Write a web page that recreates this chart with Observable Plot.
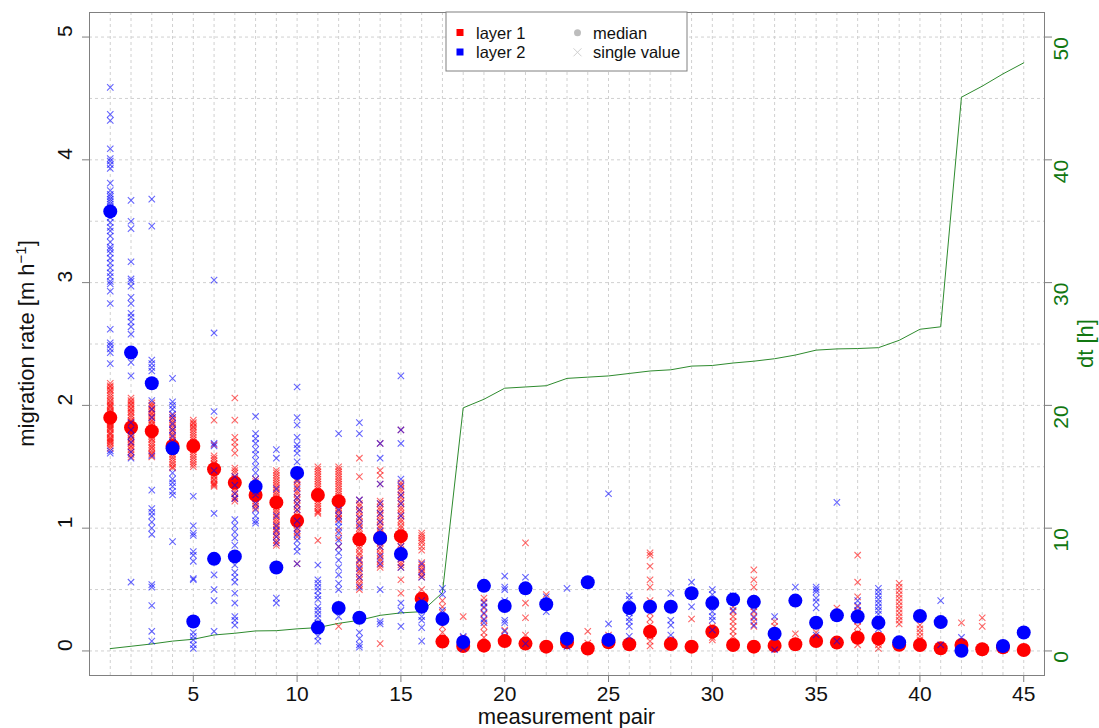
<!DOCTYPE html>
<html>
<head>
<meta charset="utf-8">
<script src="https://cdn.jsdelivr.net/npm/d3@7"></script>
<script src="https://cdn.jsdelivr.net/npm/@observablehq/plot@0.6"></script>
<style>
  body { margin: 0; background: #fff; }
  #chart { position: relative; width: 1099px; height: 728px; overflow: hidden; }
</style>
</head>
<body>
<div id="chart"></div>
<script>
// Measurement pairs (x categories)
const pairs = [1,2,3,4,5,6,7,8,9,10,11,12,13,14,15,16,17,18,19,20,21,22,23,24,25,26,27,28,29,30,31,32,33,34,35,36,37,38,39,40,41,42,43,44,45];

// Time between the two measurements of each pair [h]
const dt = [0.19,0.38,0.57,0.8,0.95,1.3,1.44,1.63,1.65,1.8,1.9,2.25,2.5,2.9,3.1,3.2,4.75,19.8,20.5,21.4,21.5,21.6,22.2,22.3,22.4,22.6,22.8,22.9,23.2,23.25,23.45,23.6,23.8,24.1,24.5,24.6,24.63,24.7,25.3,26.2,26.4,45.1,46.0,47.0,47.9];

// Median migration rate per pair [m/h]
const median1 = [1.90,1.82,1.79,1.67,1.67,1.48,1.37,1.27,1.21,1.06,1.27,1.22,0.91,0.92,0.935,0.425,0.076,0.04,0.043,0.08,0.06,0.035,0.07,0.02,0.07,0.054,0.157,0.057,0.035,0.157,0.049,0.035,0.043,0.054,0.081,0.068,0.108,0.1,0.05,0.049,0.022,0.049,0.014,0.03,0.008];
const median2 = [3.58,2.43,2.18,1.65,0.24,0.75,0.77,1.34,0.68,1.45,0.19,0.35,0.27,0.92,0.79,0.36,0.26,0.073,0.53,0.366,0.51,0.38,0.1,0.56,0.09,0.35,0.36,0.36,0.47,0.39,0.42,0.40,0.14,0.41,0.23,0.29,0.28,0.23,0.07,0.285,0.235,0.002,null,0.04,0.15];

// Single migration rates, layer 1, one list per pair
const single1 = [
  [2.18,2.16,2.15,2.13,2.12,2.1,2.08,2.06,2.04,2.03,2.01,2.0,1.99,1.98,1.96,1.95,1.94,1.93,1.91,1.9,1.89,1.88,1.87,1.86,1.85,1.84,1.83,1.82,1.81,1.8,1.78,1.77,1.76,1.74,1.73,1.72,1.71,1.7,1.69,1.67,1.65],
  [2.06,2.04,2.03,2.01,2.0,1.98,1.97,1.95,1.94,1.92,1.9,1.88,1.87,1.86,1.85,1.84,1.83,1.81,1.8,1.79,1.78,1.76,1.75,1.73,1.72,1.7,1.69,1.67,1.66,1.64,1.62,1.6,1.58],
  [2.02,2.0,1.99,1.97,1.96,1.94,1.93,1.91,1.9,1.88,1.87,1.85,1.84,1.82,1.81,1.79,1.78,1.76,1.75,1.73,1.72,1.7,1.68,1.66,1.65,1.63,1.61,1.6,1.58],
  [1.92,1.9,1.88,1.86,1.84,1.82,1.8,1.78,1.76,1.74,1.72,1.7,1.68,1.66,1.64,1.62,1.6,1.58,1.56,1.54,1.52,1.5,1.49],
  [1.88,1.86,1.85,1.83,1.82,1.8,1.78,1.76,1.74,1.72,1.7,1.68,1.66,1.64,1.62,1.6,1.58,1.56,1.54,1.52,1.5],
  [1.88,1.68,1.59,1.57,1.55,1.53,1.52,1.5,1.48,1.46,1.45,1.43,1.42,1.4,1.39,1.37,1.36,1.35,1.34],
  [2.06,1.88,1.74,1.7,1.66,1.61,1.49,1.47,1.45,1.42,1.4,1.38,1.35,1.33,1.3,1.28,1.25,1.24,1.22],
  [1.4,1.38,1.36,1.34,1.33,1.31,1.3,1.28,1.27,1.25,1.24,1.22,1.2,1.18,1.16],
  [1.47,1.45,1.43,1.41,1.39,1.37,1.35,1.33,1.31,1.29,1.27,1.25,1.23,1.21,1.19,1.17,1.15,1.13,1.11,1.09,1.07,1.05,1.03,1.01,0.99,0.97,0.95,0.93,0.9,0.88,0.86],
  [1.45,1.43,1.4,1.38,1.35,1.33,1.3,1.28,1.25,1.23,1.2,1.18,1.15,1.13,1.1,1.08,1.05,1.03,1.0,0.98,0.96,0.93,0.71],
  [1.5,1.48,1.46,1.44,1.42,1.4,1.38,1.36,1.34,1.32,1.3,1.28,1.26,1.24,1.22,1.2,1.18,1.16,1.14,1.13,1.12,0.9],
  [1.5,1.48,1.46,1.44,1.42,1.4,1.38,1.36,1.34,1.32,1.3,1.28,1.26,1.24,1.22,1.2,1.18,1.16,1.14,1.12,1.1,1.08,1.07,0.98,0.92,0.85,0.2],
  [1.57,1.42,1.23,1.2,1.18,1.15,1.13,1.1,1.08,1.05,1.03,1.0,0.98,0.95,0.93,0.9,0.88,0.85,0.83,0.8,0.78,0.75,0.73,0.7,0.68,0.65,0.63,0.6,0.58,0.55,0.53,0.5],
  [1.69,1.47,1.43,1.36,1.22,1.2,1.17,1.15,1.12,1.1,1.07,1.05,1.02,1.0,0.97,0.95,0.93,0.9,0.88,0.85,0.83,0.8,0.78,0.75,0.73,0.7,0.68,0.06],
  [1.8,1.37,1.35,1.32,1.3,1.27,1.25,1.22,1.2,1.17,1.15,1.12,1.1,1.07,1.05,1.02,1.0,0.97,0.95,0.92,0.9,0.87,0.85,0.82,0.8,0.77,0.75,0.72,0.7,0.68,0.58,0.47],
  [0.96,0.94,0.92,0.9,0.88,0.85,0.82,0.72,0.7,0.68,0.66,0.64,0.62,0.6,0.5],
  [0.41,0.36,0.31,0.2,0.15,0.1],
  [0.28,0.11,0.06,0.03],
  [0.43,0.4,0.35,0.3,0.25,0.2,0.15,0.11],
  [0.17,0.12,0.1],
  [0.88,0.39,0.27,0.13],
  [0.46],
  [0.07,0.05],
  [0.16,0.065],
  [0.13,0.1],
  [0.07,0.05],
  [0.8,0.78,0.69,0.58,0.52,0.41,0.36,0.31,0.26,0.21,0.16,0.12,0.08,0.04],
  [0.09,0.05],
  [0.26],
  [0.2,0.11,0.09],
  [0.36,0.32,0.28,0.24,0.2,0.16,0.12],
  [0.66,0.58,0.52,0.36,0.32,0.28,0.24,0.2],
  [0.24,0.2],
  [0.14],
  [0.15],
  [0.35],
  [0.78,0.56,0.44,0.36,0.32,0.28,0.24,0.2,0.15,0.1,0.05],
  [0.09,0.05,0.02],
  [0.55,0.52,0.49,0.46,0.43,0.4,0.37,0.34,0.31,0.28,0.25,0.22],
  [0.21,0.18,0.15,0.12,0.09],
  [0.03],
  [0.23],
  [0.27,0.2],
  [0.03],
  [0.01]
];

// Single migration rates, layer 2, one list per pair
const single2 = [
  [4.59,4.37,4.32,4.09,4.01,3.99,3.96,3.93,3.81,3.75,3.72,3.7,3.68,3.66,3.64,3.62,3.6,3.53,3.49,3.45,3.42,3.38,3.33,3.29,3.27,3.24,3.2,3.16,3.12,3.08,3.05,3.01,2.99,2.93,2.83,2.62,2.51,2.49,2.46,2.43,2.34,1.63,1.61],
  [3.67,3.5,3.44,3.17,3.03,3.01,2.97,2.88,2.83,2.75,2.72,2.68,2.64,2.58,2.35,2.24,1.86,1.8,1.75,1.7,1.62,1.57,0.56],
  [3.68,3.46,2.37,2.34,2.31,2.28,2.04,1.97,1.9,1.59,1.31,1.16,1.13,1.1,1.05,1.0,0.95,0.54,0.52,0.37,0.16,0.08],
  [2.22,2.03,2.0,1.97,1.93,1.9,1.85,1.8,1.75,1.7,1.45,1.4,1.37,1.34,1.3,1.27,0.89],
  [1.26,1.02,0.96,0.94,0.81,0.78,0.73,0.59,0.58,0.15,0.12,0.09,0.05,0.02],
  [3.02,2.59,1.95,1.69,1.67,1.47,1.12,0.62,0.5,0.41,0.16],
  [1.42,1.35,1.28,1.24,1.07,1.02,0.97,0.92,0.86,0.77,0.7,0.64,0.6,0.56,0.47,0.39,0.28,0.25,0.21],
  [1.91,1.77,1.73,1.69,1.64,1.6,1.55,1.5,1.45,1.4,1.3,1.27,1.2,1.15,1.1,1.06,1.04],
  [1.64,1.57,1.32,1.1,1.02,0.98,0.93,0.88,0.43,0.39],
  [2.15,1.9,1.84,1.74,1.68,1.65,1.61,1.54,1.39,1.32,1.25,1.2,1.15,1.06,1.0,0.95,0.9,0.85,0.81,0.71],
  [0.7,0.58,0.55,0.52,0.49,0.45,0.42,0.36,0.33,0.3,0.27,0.23,0.12,0.08],
  [1.77,1.15,1.1,1.05,1.01,0.96,0.9,0.85,0.8,0.74,0.68,0.62,0.55,0.5,0.28],
  [1.86,1.77,1.23,1.15,1.08,1.02,0.74,0.67,0.6,0.52,0.15,0.1,0.05,0.03],
  [1.69,1.57,1.36,1.2,1.12,1.05,0.98,0.93,0.85,0.77,0.71,0.5,0.24,0.22],
  [2.24,1.8,1.69,1.4,1.34,1.27,1.2,1.1,0.85,0.75,0.68,0.39,0.33,0.2],
  [0.71,0.65,0.6,0.41,0.28,0.25,0.19,0.08],
  [0.51,0.46,0.33],
  [0.12,0.07,0.02],
  [0.39,0.36,0.31,0.26,0.23],
  [0.61,0.52,0.5,0.41,0.25,0.23,0.16],
  [0.6,0.06],
  [0.44,0.32],
  [0.51,0.035],
  [],
  [1.28,0.22],
  [0.45,0.42,0.31,0.27,0.24,0.2,0.12],
  [],
  [0.47,0.25,0.21,0.13],
  [0.56,0.36],
  [0.5,0.46,0.36,0.32,0.28,0.25,0.17],
  [0.45,0.33],
  [0.33,0.27,0.21],
  [0.28,0.01],
  [0.52],
  [0.52,0.5,0.48,0.43,0.4,0.35,0.13],
  [1.21,0.08],
  [0.41,0.37,0.33,0.28,0.25],
  [0.51,0.48,0.45,0.42,0.39,0.36,0.33,0.3,0.26,0.22,0.18],
  [],
  [],
  [0.41,0.05],
  [0.11],
  [],
  [],
  []
];

// Axis ticks
const xTicks = [5,10,15,20,25,30,35,40,45];
const rateTicks = [0,1,2,3,4,5];
const dtTicks = [0,10,20,30,40,50];
const rateGrid = [0,0.5,1,1.5,2,2.5,3,3.5,4,4.5,5];

// dt shares the left scale: dt/10 runs over the same range as the rate
const dtToRate = v => v / 10;

const flat = (lists) => lists.flatMap((vals, i) => vals.map(v => ({pair: pairs[i], value: v})));
const singles1 = flat(single1);
const singles2 = flat(single2);
const med1 = pairs.map((p, i) => ({pair: p, value: median1[i]}));
const med2 = pairs.map((p, i) => ({pair: p, value: median2[i]})).filter(d => d.value != null);
const dtLine = pairs.map((p, i) => ({pair: p, value: dtToRate(dt[i])}));

const font = "'Liberation Sans', Arial, Helvetica, sans-serif";
const axisGray = "#808080";
const green = "#117711";
const RED = "#ff0000", BLUE = "#0000ff";

const chart = Plot.plot({
  width: 1099,
  height: 728,
  marginLeft: 89,
  marginRight: 55,
  marginTop: 12,
  marginBottom: 53,
  style: {fontFamily: font, background: "#fff", overflow: "visible"},
  x: {domain: [0, 46]},
  y: {domain: [-0.2, 5.2]},
  marks: [
    Plot.gridX(pairs, {stroke: "#d0d0d0", strokeOpacity: 1, strokeDasharray: "3,3"}),
    Plot.gridY(rateGrid, {stroke: "#d0d0d0", strokeOpacity: 1, strokeDasharray: "3,3"}),
    Plot.line(dtLine, {x: "pair", y: "value", stroke: "#2e8b2e", strokeWidth: 1}),
    Plot.dot(singles1, {x: "pair", y: "value", symbol: "times", r: 3, stroke: RED, strokeOpacity: 0.6, strokeWidth: 1.1}),
    Plot.dot(med1, {x: "pair", y: "value", r: 7, fill: RED, stroke: "none"}),
    Plot.dot(singles2, {x: "pair", y: "value", symbol: "times", r: 3, stroke: BLUE, strokeOpacity: 0.6, strokeWidth: 1.1}),
    Plot.dot(med2, {x: "pair", y: "value", r: 7, fill: BLUE, stroke: "none"}),
    Plot.frame({stroke: axisGray}),
    Plot.axisX(xTicks, {tickSize: 7, stroke: axisGray, tickFormat: () => "", label: null}),
    Plot.axisY(rateTicks, {anchor: "left", tickSize: 7, stroke: axisGray, tickFormat: () => "", label: null}),
    Plot.axisY(dtTicks.map(dtToRate), {anchor: "right", tickSize: 7, stroke: axisGray, tickFormat: () => "", label: null}),
    Plot.text(xTicks, {x: d => d, text: d => String(d), frameAnchor: "bottom", dy: 19, lineAnchor: "middle", fontSize: 21, fill: "#111"}),
    Plot.text(rateTicks, {y: d => d, text: d => String(d), frameAnchor: "left", dx: -24, rotate: -90, lineAnchor: "middle", fontSize: 21, fill: "#111"}),
    Plot.text(dtTicks, {y: d => dtToRate(d), text: d => String(d), frameAnchor: "right", dx: 17, rotate: -90, lineAnchor: "middle", fontSize: 21, fill: green})
  ]
});

document.getElementById("chart").appendChild(chart);

// Axis titles and legend
const svg = d3.select(chart);
const midY = (12 + 675) / 2;

const ytitle = svg.append("text")
  .attr("transform", `translate(34,${midY}) rotate(-90)`)
  .attr("text-anchor", "middle")
  .attr("font-family", font).attr("font-size", 22).attr("fill", "#111");
ytitle.append("tspan").text("migration rate [m h");
ytitle.append("tspan").attr("dy", -8).attr("font-size", 15).text("−1");
ytitle.append("tspan").attr("dy", 8).text("]");

svg.append("text")
  .attr("transform", `translate(1093,${midY}) rotate(-90)`)
  .attr("text-anchor", "middle")
  .attr("font-family", font).attr("font-size", 22).attr("fill", green)
  .text("dt [h]");

svg.append("text")
  .attr("x", (89 + 1044) / 2).attr("y", 724)
  .attr("text-anchor", "middle")
  .attr("font-family", font).attr("font-size", 22).attr("fill", "#111")
  .text("measurement pair");

const lg = svg.append("g").attr("font-family", font).attr("font-size", 16.5)
  .attr("fill", "#111").attr("text-anchor", "start");
lg.append("rect").attr("x", 446).attr("y", 12).attr("width", 241).attr("height", 59)
  .attr("fill", "#fff").attr("stroke", axisGray);
lg.append("rect").attr("x", 456.5).attr("y", 29).attr("width", 7).attr("height", 7).attr("fill", RED);
lg.append("rect").attr("x", 456.5).attr("y", 48.5).attr("width", 7).attr("height", 7).attr("fill", BLUE);
lg.append("text").attr("x", 476).attr("y", 38.5).attr("text-anchor", "start").text("layer 1");
lg.append("text").attr("x", 476).attr("y", 58).attr("text-anchor", "start").text("layer 2");
lg.append("circle").attr("cx", 577.5).attr("cy", 32.7).attr("r", 3.5).attr("fill", "#bdbdbd");
lg.append("path").attr("d", "M573.5,48.3L581.5,56.3M581.5,48.3L573.5,56.3").attr("stroke", "#cfcfcf").attr("stroke-width", 1);
lg.append("text").attr("x", 593).attr("y", 38.5).attr("text-anchor", "start").text("median");
lg.append("text").attr("x", 593).attr("y", 58).attr("text-anchor", "start").text("single value");
</script>
</body>
</html>
